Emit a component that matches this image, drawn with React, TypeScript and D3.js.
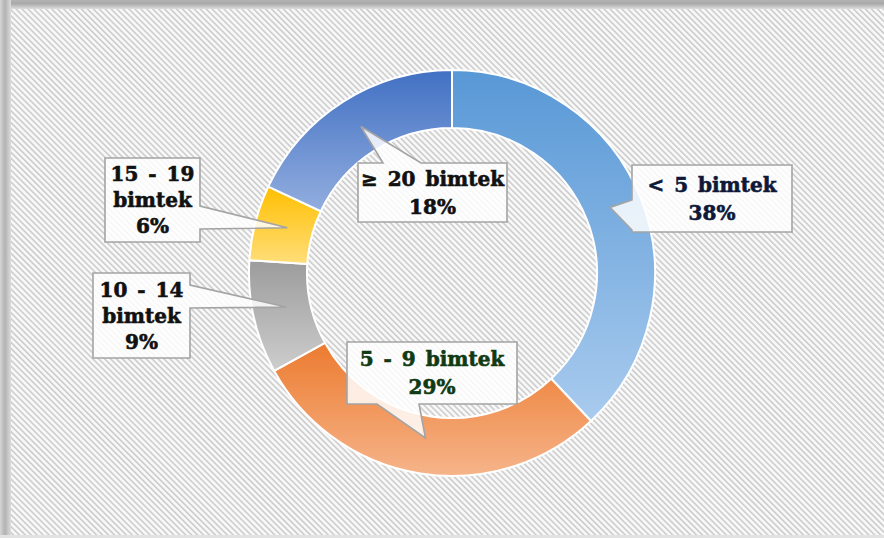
import React from "react";
import * as d3 from "d3";

const categories = ["< 5 bimtek", "5 - 9 bimtek", "10 - 14 bimtek", "15 - 19 bimtek", "≥ 20 bimtek"];
const values = [38, 29, 9, 6, 18];
const labelLines = [
  ["< 5 bimtek", "38%"],
  ["5 - 9 bimtek", "29%"],
  ["10 - 14", "bimtek", "9%"],
  ["15 - 19", "bimtek", "6%"],
  ["≥ 20 bimtek", "18%"],
];
const gradTop = ["#5898d6", "#ec7b30", "#9c9c9c", "#ffbf00", "#4170c3"];
const gradBottom = ["#a9cbee", "#f6b48a", "#cdcdcd", "#ffde7a", "#93aedf"];
const textColors = ["#0e1838", "#103a12", "#111111", "#111111", "#111111"];

// callout layout: box [x0,y0,x1,y1], tail side and base points
const boxes = [
  { b: [632, 165, 792, 232], side: "left", base: [200, 230] },
  { b: [347, 342, 517, 404], side: "bottom", base: [377, 419] },
  { b: [93, 273, 190, 358], side: "right", base: [285, 308] },
  { b: [105, 158, 200, 242], side: "right", base: [206, 229] },
  { b: [358, 163, 507, 222], side: "top", base: [383, 421] },
];

const W = 884, H = 538;
const cx = 452, cy = 273, R = 203, r = 145;

function calloutPath(b: number[], side: string, base: number[], tip: [number, number]) {
  const [x0, y0, x1, y1] = b;
  const [a, c] = base;
  const [tx, ty] = tip;
  if (side === "top")
    return `M${x0},${y0}L${a},${y0}L${tx},${ty}L${c},${y0}L${x1},${y0}L${x1},${y1}L${x0},${y1}Z`;
  if (side === "bottom")
    return `M${x0},${y0}L${x1},${y0}L${x1},${y1}L${c},${y1}L${tx},${ty}L${a},${y1}L${x0},${y1}Z`;
  if (side === "left")
    return `M${x0},${y0}L${x1},${y0}L${x1},${y1}L${x0},${y1}L${x0},${c}L${tx},${ty}L${x0},${a}Z`;
  return `M${x0},${y0}L${x1},${y0}L${x1},${a}L${tx},${ty}L${x1},${c}L${x1},${y1}L${x0},${y1}Z`;
}

export default function App() {
  const pie = d3.pie<number>().sort(null).value((d) => d);
  const arcs = pie(values);
  const arc = d3.arc<d3.PieArcDatum<number>>().innerRadius(r).outerRadius(R);
  const tipArc = d3.arc<d3.PieArcDatum<number>>().innerRadius(170).outerRadius(170);

  return (
    <div style={{ position: "absolute", left: 0, top: 0 }}>
      <svg width={W} height={H} style={{ display: "block" }}>
        <defs>
          <pattern id="hatch" width="4.2" height="4.2" patternUnits="userSpaceOnUse" patternTransform="rotate(-45)">
            <rect width="4.2" height="4.2" fill="#f8f8f8" />
            <rect x="0" y="0" width="1.6" height="4.2" fill="#cdcdcd" />
          </pattern>
          <linearGradient id="topBand" x1="0" y1="0" x2="0" y2="1">
            <stop offset="0" stopColor="#b4b4b4" />
            <stop offset="0.4" stopColor="#a9a9a9" />
            <stop offset="1" stopColor="#dedede" />
          </linearGradient>
          <linearGradient id="leftBand" x1="0" y1="0" x2="1" y2="0">
            <stop offset="0" stopColor="#d6d6d6" />
            <stop offset="0.45" stopColor="#b2b2b2" />
            <stop offset="1" stopColor="#dcdcdc" />
          </linearGradient>
          {values.map((_, i) => (
            <linearGradient key={i} id={`g${i}`} x1="0" y1="0" x2="0" y2="1">
              <stop offset="0" stopColor={gradTop[i]} />
              <stop offset="1" stopColor={gradBottom[i]} />
            </linearGradient>
          ))}
        </defs>
        <rect x={0} y={0} width={W} height={H} fill="#d8d8d8" />
        <rect x={0} y={0} width={W} height={9} fill="url(#topBand)" />
        <rect x={0} y={0} width={11} height={H} fill="url(#leftBand)" />
        <rect x={11} y={9} width={W - 11} height={H - 12} fill="url(#hatch)" />
        <rect x={0} y={H - 3} width={W} height={3} fill="#e2e2e2" />

        <g transform={`translate(${cx},${cy})`}>
          {arcs.map((a, i) => (
            <path key={categories[i]} d={arc(a) || ""} fill={`url(#g${i})`} stroke="#ffffff" strokeWidth={2} />
          ))}
        </g>

        {arcs.map((a, i) => {
          const c = tipArc.centroid(a);
          const tip: [number, number] = [cx + c[0], cy + c[1] - 3];
          const bx = boxes[i];
          const [x0, y0, x1, y1] = bx.b;
          const lines = labelLines[i];
          const mx = (x0 + x1) / 2;
          const lh = lines.length === 3 ? 26 : 28;
          const midY = (y0 + y1) / 2;
          const startY = midY - ((lines.length - 1) * lh) / 2;
          return (
            <g key={"c" + i}>
              <path
                d={calloutPath(bx.b, bx.side, bx.base, tip)}
                fill="#ffffff"
                fillOpacity={0.84}
                stroke="#a4a4a4"
                strokeWidth={1.6}
                strokeLinejoin="miter"
              />
              {lines.map((t, k) => (
                <text
                  key={k}
                  x={mx}
                  y={startY + k * lh}
                  dy="0.36em"
                  textAnchor="middle"
                  fontFamily="'DejaVu Serif', serif"
                  fontWeight="bold"
                  fontSize={20}
                  wordSpacing={3}
                  fill={textColors[i]}
                  stroke={textColors[i]}
                  strokeWidth={0.6}
                >
                  {t}
                </text>
              ))}
            </g>
          );
        })}
      </svg>
    </div>
  );
}
